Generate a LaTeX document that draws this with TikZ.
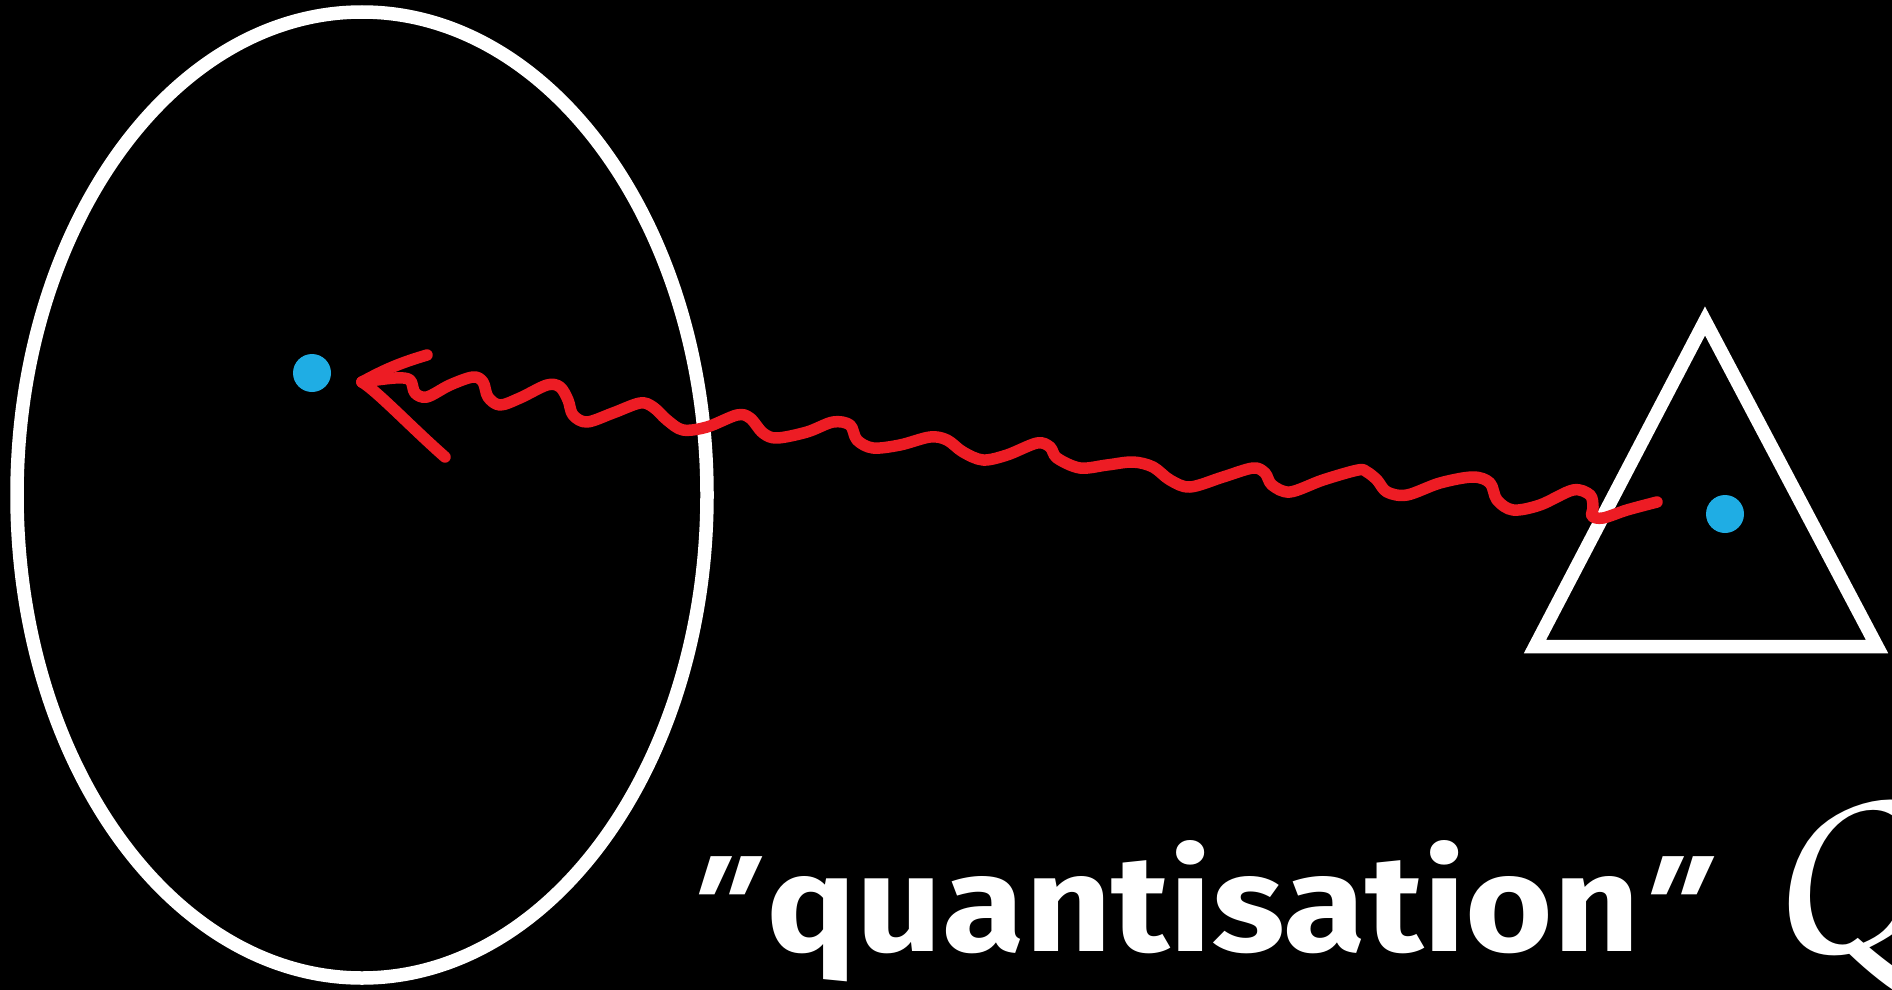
\documentclass[tikz,border=0pt]{standalone}
\usepackage{fontspec}
\usepackage{graphicx}
\setmainfont{Fira Sans}
\newfontfamily\quotefont{Fira Sans}[FakeSlant=0.35]
\definecolor{qred}{HTML}{ED1C24}
\definecolor{qblue}{HTML}{1FADE4}
\tikzset{
  outline/.style={draw=white, line width=13.5pt, line join=miter},
  particle/.style={circle, fill=qblue, minimum size=38pt, inner sep=0pt},
  photon/.style={draw=qred, line width=11.5pt, line cap=round, line join=round},
}
\newcommand{\slq}{{\quotefont\bfseries\char"22}}
\begin{document}
\begin{tikzpicture}[x=1pt, y=-1pt]
\fill[black] (0,0) rectangle (1892,990);
\useasboundingbox (0,0) rectangle (1892,990);
% ellipse
\draw[outline] (362,495) ellipse [x radius=345, y radius=483];
% triangle
\draw[outline] (1705,321) -- (1535,646.5) -- (1877,646.5) -- cycle;
% particles
\node[particle] (p1) at (312,373) {};
\node[particle] (p2) at (1725,514) {};
% photon
\coordinate (tip) at (362,382);
\coordinate (tail) at (1657,502);
\draw[photon] (tip) to[bend left=6] (427,355);
\draw[photon] (tip) .. controls (378,392) and (412,428) .. (445,457);
\draw[photon] plot[smooth, tension=0.55] coordinates {
 (tip) (395,378) (410,380) (415,393) (427,397) (450,385) (473,377) (483,382)
 (488,397) (500,405) (520,398) (547,385) (560,387) (568,400) (573,415)
 (587,422) (613,413) (640,403) (653,407) (667,420) (683,430) (707,427)
 (737,415) (750,418) (763,433) (777,438) (807,432) (833,422) (850,425)
 (857,440) (873,448) (900,445) (930,437) (947,440) (963,452) (983,460)
 (1007,455) (1037,443) (1050,447) (1057,458) (1080,468) (1107,465)
 (1133,462) (1153,467) (1170,480) (1190,487) (1223,477) (1253,468)
 (1265,473) (1272,485) (1290,492) (1323,480) (1358,470) (1367,472)
 (1377,480) (1387,492) (1407,495) (1440,483) (1473,477) (1490,483)
 (1497,500) (1513,510) (1540,505) (1573,490) (1590,495) (1593,507)
 (1592,516) (1603,518) (1627,510) (tail)};
% label
\node[anchor=base west, inner sep=0pt, text=white] (label) at (699,951)
  {\resizebox{1014pt}{111pt}{\bfseries\kern-0.21em\slq\kern0.22em quantisation\kern-0.14em\slq\kern0.19em}};
\node[anchor=base west, inner sep=0pt, text=white] (Q) at (1762,952)
  {\fontsize{258}{258}\usefont{OT1}{pzc}{m}{it}Q};
\end{tikzpicture}
\end{document}
